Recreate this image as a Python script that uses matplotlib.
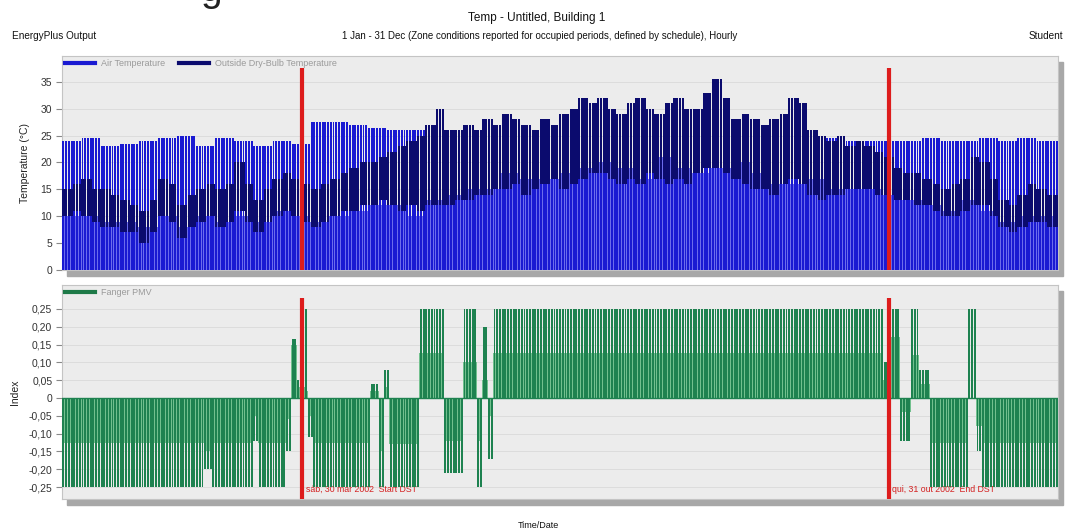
import numpy as np
import matplotlib
matplotlib.use('Agg')
import matplotlib.pyplot as plt
from matplotlib.patches import Rectangle
from matplotlib.lines import Line2D
from matplotlib.ticker import FuncFormatter

plt.rcParams['font.family'] = ['Liberation Sans', 'DejaVu Sans']

# weekly envelope of zone air temperature (week 51 also holds 31 Dec)
air_high = [24, 24.5, 23, 23.5, 24, 24.5, 25, 23, 24.5, 24, 23, 24, 23.5,
            27.5, 27.5, 27, 26.5, 26, 26, 26, 26, 26, 26, 26, 26, 26,
            26, 26, 26, 26, 26, 26, 26, 26, 26, 26, 26, 26, 26,
            25, 24.5, 24, 24, 24, 24, 24.5, 24, 24, 24.5, 24, 24.5, 24]
air_low = [10, 10, 9, 9, 8, 10, 8, 10, 9, 10, 9, 11, 10,
           9, 10, 11, 12, 12, 10, 13, 14, 15, 15, 18, 17, 17,
           18, 19, 20, 19, 17, 21, 19, 18, 19, 20, 18, 16, 16,
           17, 15, 15, 15, 14, 13, 12, 11, 13, 11, 9, 10, 10]

# outside dry-bulb range per half week (104 half weeks)
out_min = [10, 11, 10, 9, 8, 8, 7, 7, 5, 7, 10, 9, 6, 8, 9, 10,
           8, 9, 11, 9, 7, 9, 10, 11, 10, 9, 8, 9, 10, 11, 11, 12,
           12, 13, 12, 11, 12, 11, 12, 12, 12, 13, 13, 14, 14, 15, 15, 16,
           14, 15, 16, 17, 15, 16, 17, 18, 18, 17, 16, 17, 16, 18, 17, 16,
           17, 16, 18, 19, 19, 18, 17, 16, 15, 15, 14, 16, 17, 16, 14, 13,
           14, 14, 15, 15, 15, 14, 14, 13, 13, 12, 12, 11, 10, 10, 11, 12,
           12, 10, 8, 7, 8, 9, 9, 8]
out_max = [15, 16, 17, 15, 15, 14, 13, 12, 11, 13, 17, 16, 12, 14, 15, 16,
           15, 16, 20, 16, 13, 15, 17, 18, 17, 16, 15, 16, 17, 18, 19, 20,
           20, 21, 22, 23, 24, 25, 27, 30, 26, 26, 27, 26, 28, 27, 29, 28,
           27, 26, 28, 27, 29, 30, 32, 31, 32, 30, 29, 31, 32, 30, 29, 31,
           32, 30, 30, 33, 35.5, 32, 28, 29, 28, 27, 28, 29, 32, 31, 26, 25,
           24, 25, 23, 24, 23, 22, 21, 19, 18, 18, 17, 16, 15, 16, 17, 21,
           20, 17, 13, 12, 14, 16, 15, 14]

# Fanger PMV as runs: first day of run, daily extreme, typical level
pmv_start = [0, 52, 55, 70, 72, 82, 84, 86, 89, 90, 92, 113, 116, 118, 120,
             131, 140, 147, 152, 154, 156, 158, 301, 303, 307, 311, 314, 318,
             332, 335, 337]
pmv_peak = [-0.25, -0.20, -0.25, -0.12, -0.25, -0.15, 0.165, 0.05, 0.25, -0.11,
            -0.25, 0.04, -0.25, 0.08, -0.25, 0.25, -0.21, 0.25, -0.25, 0.20,
            -0.17, 0.25, 0.10, 0.25, -0.12, 0.25, 0.08, -0.25, 0.25, -0.15, -0.25]
pmv_mid = [-0.125, -0.15, -0.125, -0.05, -0.125, -0.06, 0.15, 0.03, 0.02, -0.05,
           -0.125, 0.02, -0.15, 0.03, -0.13, 0.125, -0.12, 0.10, -0.12, 0.05,
           -0.05, 0.125, 0.05, 0.17, -0.04, 0.12, 0.04, -0.125, 0.0, -0.08, -0.125]

dst_days = [88, 303]
dst_labels = ['sáb, 30 mar 2002  Start DST', 'qui, 31 out 2002  End DST']
temp_ticks = [0, 5, 10, 15, 20, 25, 30, 35]
pmv_ticks = [-0.25, -0.20, -0.15, -0.10, -0.05, 0, 0.05, 0.10, 0.15, 0.20, 0.25]

days = np.arange(365)
x = days + 0.5
week = np.minimum(days // 7, 51)
half = np.minimum(days * 2 // 7, 103)
run = np.searchsorted(pmv_start, days, side='right') - 1

W, H = 1065, 530
fig = plt.figure(figsize=(W / 100, H / 100), dpi=100)

def fx(px):
    return px / W

def fy(py):
    return 1 - py / H

panel_l, panel_r = 62, 1058
top_rect = [fx(panel_l), fy(270), fx(panel_r - panel_l), 214 / H]
bot_rect = [fx(panel_l), fy(499), fx(panel_r - panel_l), 214 / H]

# drop shadows behind both panels
for r in (top_rect, bot_rect):
    fig.add_artist(Rectangle((r[0] + fx(5), r[1] - 6 / H), r[2], r[3],
                             transform=fig.transFigure, color='#a8a8a8', zorder=-1))

ax1 = fig.add_axes(top_rect)
ax2 = fig.add_axes(bot_rect)

for ax in (ax1, ax2):
    ax.set_facecolor('#ececec')
    ax.set_xlim(0, 365)
    ax.set_xticks([])
    for s in ax.spines.values():
        s.set_color('#c4c4c4')
        s.set_linewidth(0.8)
    ax.tick_params(axis='y', length=4, color='#888888', labelsize=7.5,
                   labelcolor='#333333', pad=3)
    ax.grid(axis='y', color='#dcdcdc', lw=0.7)
    ax.set_axisbelow(True)

# temperatures
blue, blue_lt, navy = '#1a1ad2', '#6c6cec', '#0b0b6e'
ax1.bar(x, np.array(air_low)[week], width=1.0, color=blue_lt, lw=0, zorder=2)
ax1.bar(x, np.array(air_high)[week], width=0.7, color=blue, lw=0, zorder=3)
omin = np.array(out_min)[half]
omax = np.array(out_max)[half]
ax1.bar(x, omax - omin, bottom=omin, width=0.85, color=navy, lw=0, zorder=4)
ax1.set_ylim(0, 39.8)
ax1.set_yticks(temp_ticks)
ax1.set_ylabel('Temperature (°C)', fontsize=7.5, color='#222222', labelpad=8)
ax1.vlines(dst_days, 0, 37.6, color='#dd1c1c', lw=3, zorder=6)

leg1 = ax1.legend(handles=[Line2D([], [], color=blue, lw=3),
                           Line2D([], [], color=navy, lw=3)],
                  labels=['Air Temperature', 'Outside Dry-Bulb Temperature'],
                  loc='upper left', bbox_to_anchor=(0, 1), ncol=2, frameon=False,
                  fontsize=6.5, labelcolor='#9a9a9a', handlelength=3.3,
                  handletextpad=0.7, columnspacing=1.5, borderaxespad=0.1,
                  borderpad=0.25)
leg1.set_zorder(8)

# PMV
green, green_lt = '#1e8250', '#72c08e'
ax2.bar(x, np.array(pmv_mid)[run], width=1.0, color=green_lt, lw=0, zorder=2)
ax2.bar(x, np.array(pmv_peak)[run], width=0.7, color=green, lw=0, zorder=3)
ax2.axhline(0, color=green, lw=1, zorder=3)
ax2.set_ylim(-0.2837, 0.3174)
ax2.set_yticks(pmv_ticks)
ax2.yaxis.set_major_formatter(FuncFormatter(
    lambda v, _: '0' if abs(v) < 1e-9 else f'{v:.2f}'.replace('.', ',')))
ax2.set_ylabel('Index', fontsize=7.5, color='#222222', labelpad=6)
ax2.vlines(dst_days, -0.2837, 0.281, color='#dd1c1c', lw=3, zorder=6)
for d, lab in zip(dst_days, dst_labels):
    ax2.text(d + 1.3, -0.256, lab, fontsize=6.3, color='#d42020', va='center',
             zorder=2.5)

leg2 = ax2.legend(handles=[Line2D([], [], color='#1e7a48', lw=3)],
                  labels=['Fanger PMV'], loc='upper left', bbox_to_anchor=(0, 1),
                  frameon=False, fontsize=6.5, labelcolor='#9a9a9a',
                  handlelength=3.3, handletextpad=0.7, borderaxespad=0.1,
                  borderpad=0.25)
leg2.set_zorder(8)

# header and footer text
fig.text(fx(537), fy(18), 'Temp - Untitled, Building 1', ha='center', va='center',
         fontsize=8.5, color='#111111')
fig.text(fx(540), fy(36), '1 Jan - 31 Dec (Zone conditions reported for occupied '
         'periods, defined by schedule), Hourly', ha='center', va='center',
         fontsize=7, color='#111111')
fig.text(fx(12), fy(36), 'EnergyPlus Output', ha='left', va='center',
         fontsize=7.2, color='#111111')
fig.text(fx(1029), fy(36), 'Student', ha='left', va='center',
         fontsize=7.2, color='#111111')
fig.text(fx(538), fy(526), 'Time/Date', ha='center', va='center',
         fontsize=6.5, color='#111111')
fig.text(fx(200), fy(1), 'g', ha='left', va='baseline', fontsize=28,
         color='#222222')

fig.savefig('out.png', dpi=100, facecolor='white')
